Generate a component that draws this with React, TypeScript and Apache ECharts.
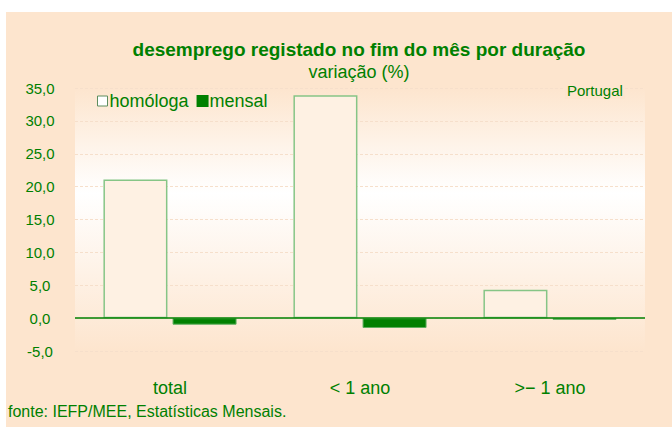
import React, { useEffect, useRef } from "react";
import * as echarts from "echarts";

const categories = ["total", "< 1 ano", ">− 1 ano"];
const homologa = [21.1, 33.9, 4.3];
const mensal = [-1.0, -1.5, -0.25];
const seriesNames = ["homóloga", "mensal"];

const GREEN = "#008000";
const PEACH = "#FDE5CE";
const FONT = "'Liberation Sans', Arial, sans-serif";

export default function App() {
  const ref = useRef<HTMLDivElement>(null);
  useEffect(() => {
    document.body.style.margin = "0";
    const chart = echarts.init(ref.current!, null, { renderer: "svg" });
    chart.setOption({
      animation: false,
      backgroundColor: "#FFFFFF",
      textStyle: { fontFamily: FONT },
      graphic: [
        {
          type: "rect",
          z: -10,
          shape: { x: 6, y: 12, width: 666, height: 415 },
          style: { fill: PEACH },
          silent: true,
        },
        {
          type: "text",
          x: 565,
          y: 82,
          z: 100,
          style: {
            text: "Portugal",
            fill: GREEN,
            font: `15px ${FONT}`,
            backgroundColor: PEACH,
            padding: [1, 2, 1, 2],
          },
        },
        {
          type: "text",
          x: 8,
          y: 403,
          style: {
            text: "fonte: IEFP/MEE, Estatísticas Mensais.",
            fill: GREEN,
            font: `16px ${FONT}`,
          },
        },
      ],
      title: [
        {
          text: "desemprego registado no fim do mês por duração",
          left: 354,
          top: 35,
          textAlign: "center",
          textStyle: { color: GREEN, fontSize: 19, fontWeight: "bold", fontFamily: FONT },
        },
        {
          text: "variação (%)",
          left: 354,
          top: 58,
          textAlign: "center",
          textStyle: { color: GREEN, fontSize: 18, fontWeight: "normal", fontFamily: FONT },
        },
      ],
      legend: {
        left: 92,
        top: 87,
        itemWidth: 10,
        itemHeight: 10,
        itemGap: 8,
        icon: "rect",
        data: [
          { name: seriesNames[0], itemStyle: { color: "#FFFFFF", borderColor: "#5E8E5E", borderWidth: 1 } },
          { name: seriesNames[1], itemStyle: { color: GREEN, borderColor: GREEN } },
        ],
        textStyle: { color: GREEN, fontSize: 18, fontFamily: FONT, padding: [0, 0, 0, -3] },
      },
      grid: {
        left: 75,
        right: 27,
        top: 88,
        bottom: 76,
        show: true,
        borderWidth: 0,
        backgroundColor: new echarts.graphic.LinearGradient(0, 0, 0, 1, [
          { offset: 0, color: PEACH },
          { offset: 0.4, color: "#FFFFFF" },
          { offset: 1, color: PEACH },
        ]),
      },
      xAxis: {
        type: "category",
        data: categories,
        axisLine: { show: false, onZero: false },
        axisTick: { show: false },
        axisLabel: { color: GREEN, fontSize: 18, margin: 28, fontFamily: FONT },
      },
      yAxis: {
        type: "value",
        min: -5,
        max: 35,
        interval: 5,
        axisLine: { show: false },
        axisTick: { show: false },
        axisLabel: {
          color: GREEN,
          fontSize: 15,
          margin: 35,
          align: "center",
          fontFamily: FONT,
          formatter: (v: number) => v.toFixed(1).replace(".", ","),
        },
        splitLine: { lineStyle: { color: "#F6DFCB", width: 1, type: [3, 2] } },
      },
      series: [
        {
          name: seriesNames[0],
          type: "bar",
          data: homologa,
          barWidth: 64,
          barGap: "8%",
          itemStyle: { color: "#FEF1E3", borderColor: "#86C586", borderWidth: 1.5 },
          markLine: {
            silent: true,
            symbol: "none",
            label: { show: false },
            lineStyle: { color: GREEN, width: 1.5, type: "solid" },
            data: [{ yAxis: 0 }],
          },
        },
        {
          name: seriesNames[1],
          type: "bar",
          data: mensal,
          barWidth: 64,
          itemStyle: { color: GREEN, borderColor: "#5FB05F", borderWidth: 1 },
        },
      ],
    });
    return () => chart.dispose();
  }, []);
  return <div ref={ref} style={{ width: 672, height: 427 }} />;
}
